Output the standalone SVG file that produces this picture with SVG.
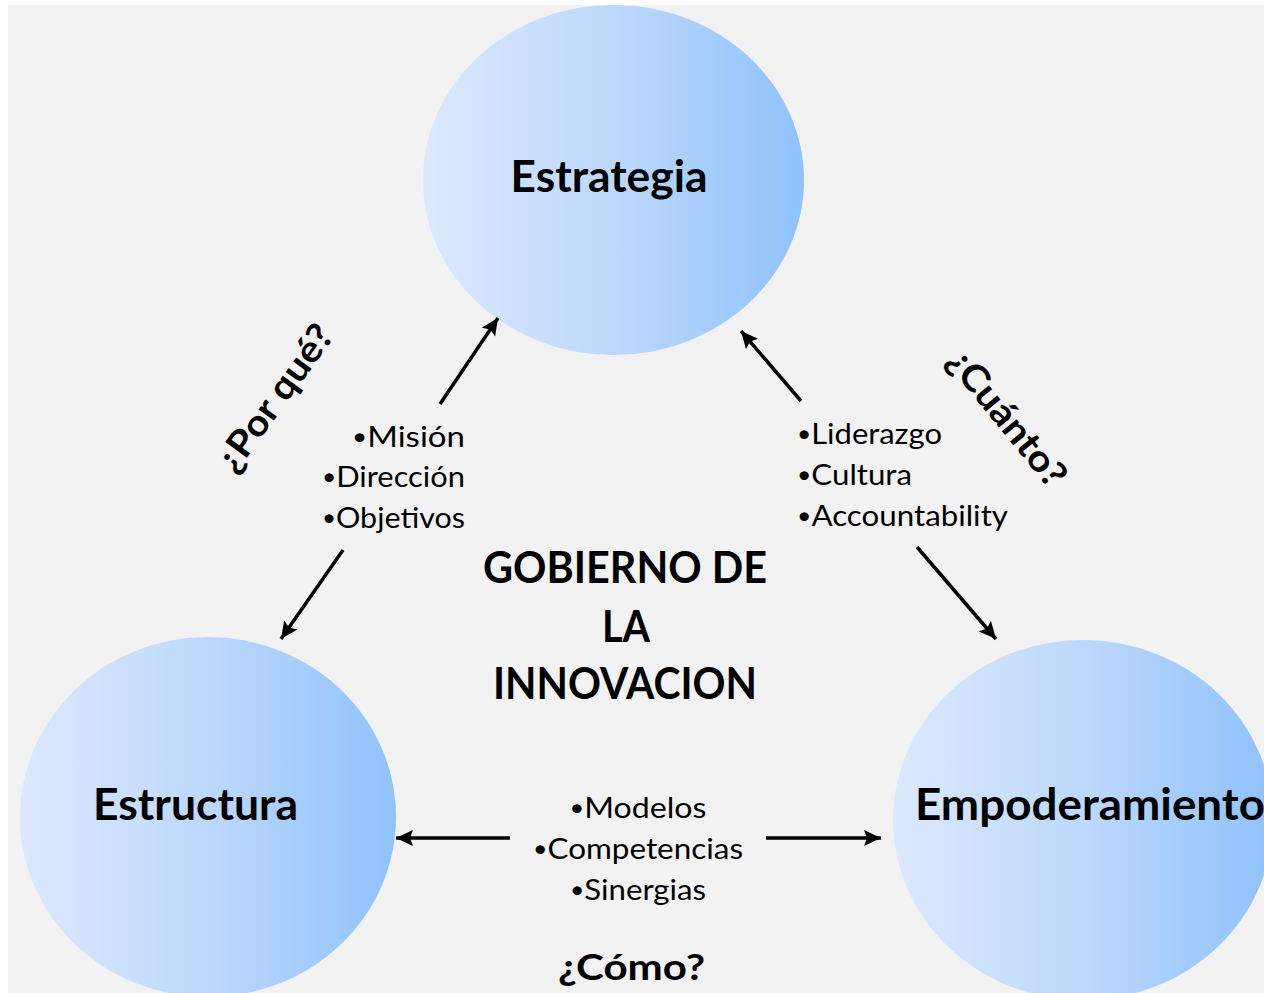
<svg xmlns="http://www.w3.org/2000/svg" width="1264" height="993" viewBox="0 0 1264 993">
  <style>
    .bigb { font-family: Lato, "Open Sans", "Liberation Sans", sans-serif; font-weight: 700; font-size: 43px; fill: #000; }
    .lbl { font-family: Lato, "Open Sans", "Liberation Sans", sans-serif; font-weight: 700; font-size: 37px; fill: #000; }
    .item { font-family: Lato, "Open Sans", "Liberation Sans", sans-serif; font-weight: 400; font-size: 29px; fill: #000; }
    .bul { font-size: 23px; }
    .conn { stroke: #000; stroke-width: 3.5; fill: none; marker-end: url(#arrow); }
    .node { fill: url(#blueGrad); }
  </style>
  <defs>
    <linearGradient id="blueGrad" x1="0" y1="0" x2="1" y2="0">
      <stop offset="0" stop-color="#dce9fd"/>
      <stop offset="0.5" stop-color="#bdd8fb"/>
      <stop offset="1" stop-color="#8fc2fb"/>
    </linearGradient>
    <marker id="arrow" markerUnits="userSpaceOnUse" markerWidth="18" markerHeight="17" refX="17" refY="8" orient="auto" viewBox="0 0 18 16">
      <path d="M0,0 L17,8 L0,16 L3,8 z" fill="#000"/>
    </marker>
  </defs>

  <rect x="0" y="0" width="1264" height="993" fill="#ffffff"/>
  <rect x="8" y="5" width="1256" height="988" fill="#f2f2f2"/>

  <g id="node-estrategia">
    <ellipse class="node" cx="613.5" cy="180" rx="190.5" ry="175"/>
    <text class="bigb" x="609" y="192" text-anchor="middle" textLength="197" lengthAdjust="spacingAndGlyphs">Estrategia</text>
  </g>

  <g id="node-estructura">
    <ellipse class="node" cx="208" cy="817" rx="188" ry="180"/>
    <text class="bigb" x="195.5" y="820" text-anchor="middle" textLength="205" lengthAdjust="spacingAndGlyphs">Estructura</text>
  </g>

  <g id="node-empoderamiento">
    <ellipse class="node" cx="1083" cy="820" rx="190" ry="180"/>
    <text class="bigb" x="915" y="820" textLength="350" lengthAdjust="spacingAndGlyphs">Empoderamiento</text>
  </g>

  <g id="center-title">
    <text class="bigb" x="625" y="583" text-anchor="middle" textLength="284" lengthAdjust="spacingAndGlyphs">GOBIERNO DE</text>
    <text class="bigb" x="626" y="642" text-anchor="middle" textLength="48" lengthAdjust="spacingAndGlyphs">LA</text>
    <text class="bigb" x="625" y="699" text-anchor="middle" textLength="264" lengthAdjust="spacingAndGlyphs">INNOVACION</text>
  </g>

  <g id="label-porque">
    <text class="lbl" transform="translate(274.5,397.5) rotate(-54)" x="0" y="13" text-anchor="middle" textLength="172" lengthAdjust="spacingAndGlyphs">¿Por qué?</text>
  </g>

  <g id="label-cuanto">
    <text class="lbl" transform="translate(1007.5,417.5) rotate(51)" x="0" y="13" text-anchor="middle" textLength="166" lengthAdjust="spacingAndGlyphs">¿Cuánto?</text>
  </g>

  <g id="label-como">
    <text class="lbl" x="631.5" y="980" text-anchor="middle" font-size="40" textLength="147" lengthAdjust="spacingAndGlyphs">¿Cómo?</text>
  </g>

  <g id="list-mision">
    <text class="item" x="465" y="447" text-anchor="end" textLength="113" lengthAdjust="spacingAndGlyphs"><tspan class="bul" baseline-shift="2">•</tspan>Misión</text>
    <text class="item" x="465" y="487" text-anchor="end" textLength="143" lengthAdjust="spacingAndGlyphs"><tspan class="bul" baseline-shift="2">•</tspan>Dirección</text>
    <text class="item" x="465" y="528" text-anchor="end" textLength="143" lengthAdjust="spacingAndGlyphs"><tspan class="bul" baseline-shift="2">•</tspan>Objetivos</text>
  </g>

  <g id="list-liderazgo">
    <text class="item" x="797" y="444" textLength="145" lengthAdjust="spacingAndGlyphs"><tspan class="bul" baseline-shift="2">•</tspan>Liderazgo</text>
    <text class="item" x="797" y="485" textLength="115" lengthAdjust="spacingAndGlyphs"><tspan class="bul" baseline-shift="2">•</tspan>Cultura</text>
    <text class="item" x="797" y="526" textLength="211" lengthAdjust="spacingAndGlyphs"><tspan class="bul" baseline-shift="2">•</tspan>Accountability</text>
  </g>

  <g id="list-modelos">
    <text class="item" x="638" y="818" text-anchor="middle" textLength="137" lengthAdjust="spacingAndGlyphs"><tspan class="bul" baseline-shift="2">•</tspan>Modelos</text>
    <text class="item" x="638" y="859" text-anchor="middle" textLength="210" lengthAdjust="spacingAndGlyphs"><tspan class="bul" baseline-shift="2">•</tspan>Competencias</text>
    <text class="item" x="638" y="900" text-anchor="middle" textLength="136" lengthAdjust="spacingAndGlyphs"><tspan class="bul" baseline-shift="2">•</tspan>Sinergias</text>
  </g>

  <g id="connectors">
    <line class="conn" x1="440" y1="404" x2="498" y2="318"/>
    <line class="conn" x1="343" y1="550" x2="281" y2="639"/>
    <line class="conn" x1="801" y1="401" x2="741" y2="331"/>
    <line class="conn" x1="917" y1="547" x2="996" y2="639"/>
    <line class="conn" x1="510" y1="838" x2="396" y2="838"/>
    <line class="conn" x1="766" y1="838" x2="881" y2="838"/>
  </g>
</svg>
